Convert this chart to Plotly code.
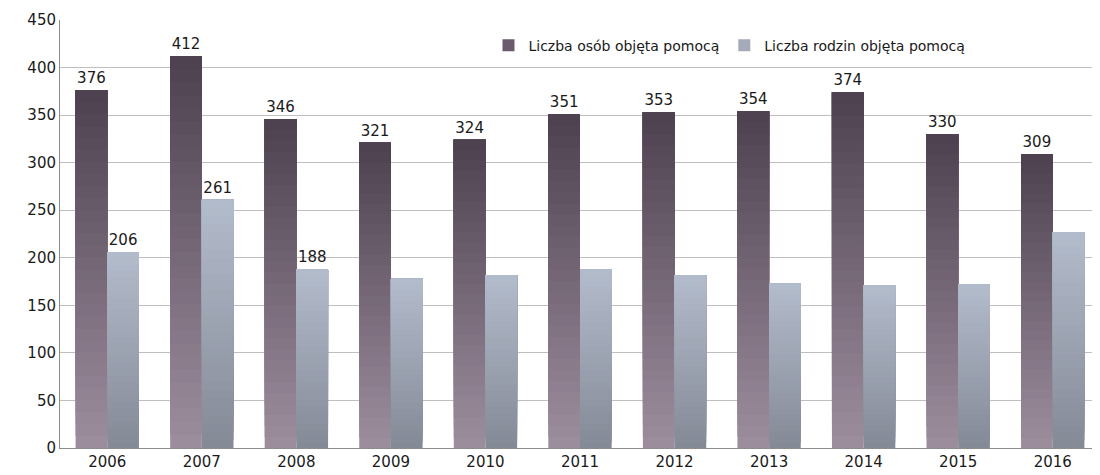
import plotly.graph_objects as go

years = ['2006', '2007', '2008', '2009', '2010', '2011', '2012', '2013', '2014', '2015', '2016']
osoby = [376, 412, 346, 321, 324, 351, 353, 354, 374, 330, 309]
rodziny = [206, 261, 188, 178, 182, 188, 182, 173, 171, 172, 227]
rodziny_labels = ['206', '261', '188', '', '', '', '', '', '', '', '']

FONT = 'DejaVu Sans'
N_STEPS = 30


def mix(c_bottom, c_top, t):
    r, g, b = (round(a + (bb - a) * t) for a, bb in zip(c_bottom, c_top))
    return f'rgb({r},{g},{b})'


def add_gradient_bars(fig, values, labels, name, group, c_bottom, c_top, legend_color):
    # pozycja tylko do legendy
    fig.add_trace(go.Bar(
        x=years, y=[None] * len(years), name=name, offsetgroup=group,
        legendgroup=group, marker=dict(color=legend_color, line=dict(width=0)),
        hoverinfo='skip',
    ))
    # każdy słupek rysowany jako nakładające się warstwy -> efekt gradientu
    for k in range(N_STEPS):
        frac = k / N_STEPS
        base = [v * frac for v in values]
        heights = [v - b for v, b in zip(values, base)]
        last = k == N_STEPS - 1
        fig.add_trace(go.Bar(
            x=years,
            y=heights,
            base=base,
            offsetgroup=group,
            legendgroup=group,
            name=name,
            showlegend=False,
            marker=dict(color=mix(c_bottom, c_top, frac), line=dict(width=0)),
            text=labels if last else None,
            textposition='outside' if last else 'none',
            textfont=dict(family=FONT, size=15, color='#1a1a1a'),
            cliponaxis=False,
            hovertemplate=f'{name}<br>%{{x}}: %{{customdata}}<extra></extra>',
            customdata=values,
        ))


fig = go.Figure()
add_gradient_bars(fig, osoby, [str(v) for v in osoby], 'Liczba osób objęta pomocą', 'osoby',
                  (156, 141, 157), (75, 63, 77), '#6A5A6C')
add_gradient_bars(fig, rodziny, rodziny_labels, 'Liczba rodzin objęta pomocą', 'rodziny',
                  (133, 138, 151), (180, 189, 205), '#A4AAB8')

fig.update_layout(
    width=1092,
    height=467,
    barmode='group',
    bargap=0.33,
    bargroupgap=0,
    paper_bgcolor='white',
    plot_bgcolor='white',
    margin=dict(l=52, r=0, t=12, b=27),
    font=dict(family=FONT, size=15, color='#1a1a1a'),
    showlegend=True,
    legend=dict(
        orientation='h',
        x=0.412, xanchor='left',
        y=0.94, yanchor='middle',
        font=dict(family=FONT, size=14, color='#1a1a1a'),
        bgcolor='rgba(0,0,0,0)',
        itemwidth=30,
        traceorder='normal',
    ),
    xaxis=dict(
        showgrid=False,
        showline=True,
        linecolor='#8c8c8c',
        linewidth=1,
        ticks='',
        tickfont=dict(family=FONT, size=15),
    ),
    yaxis=dict(
        range=[0, 450],
        dtick=50,
        showgrid=True,
        gridcolor='#BFBFBF',
        gridwidth=1,
        showline=True,
        linecolor='#8c8c8c',
        linewidth=1,
        zeroline=False,
        ticks='',
        tickfont=dict(family=FONT, size=15),
    ),
)

fig.write_html('out.html')
